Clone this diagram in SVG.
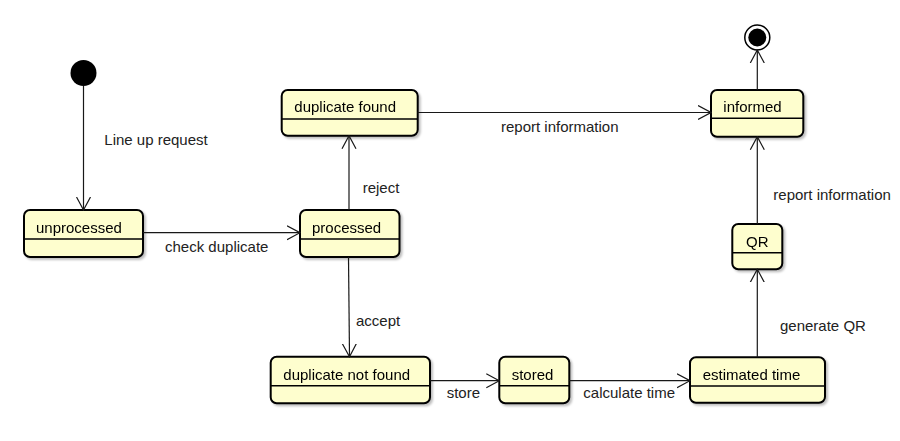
<svg xmlns="http://www.w3.org/2000/svg" width="900" height="441" viewBox="0 0 900 441">
<defs>
<filter id="sh" x="-10%" y="-10%" width="130%" height="140%">
<feDropShadow dx="2" dy="2" stdDeviation="1.2" flood-color="#000" flood-opacity="0.25"/>
</filter>
<marker id="ah" viewBox="0 0 14 16" refX="13" refY="8" markerWidth="14" markerHeight="16" markerUnits="userSpaceOnUse" orient="auto">
<path d="M0,1 L13,8 L0,15" fill="none" stroke="#181818" stroke-width="1.2"/>
</marker>
</defs>
<style>
.st rect.b{fill:#FEFECE;stroke:#000;stroke-width:2;}
.st line{stroke:#000;stroke-width:1.5;}
text{font-family:"Liberation Sans",Arial,sans-serif;font-size:15px;fill:#000;}
.el{fill:#222;}
.cn line,.cn path{stroke:#181818;stroke-width:1.2;fill:none;marker-end:url(#ah);}
</style>
<rect width="900" height="441" fill="#fff"/>

<g id="start"><circle cx="83.5" cy="73" r="13" fill="#000"/></g>
<g id="end">
<circle cx="757.3" cy="37.5" r="12.5" fill="#fff" stroke="#000" stroke-width="1.5"/>
<circle cx="757.3" cy="37.5" r="9" fill="#000"/>
</g>

<g id="unprocessed" class="st" filter="url(#sh)">
<rect class="b" x="24" y="210" width="119" height="47" rx="6"/>
<line x1="24" y1="239" x2="143" y2="239"/>
<text x="36" y="233">unprocessed</text>
</g>
<g id="processed" class="st" filter="url(#sh)">
<rect class="b" x="300" y="210" width="99.5" height="47" rx="6"/>
<line x1="300" y1="239" x2="399.5" y2="239"/>
<text x="312" y="233">processed</text>
</g>
<g id="duplicate_found" class="st" filter="url(#sh)">
<rect class="b" x="281.7" y="90" width="136" height="45.7" rx="6"/>
<line x1="281.7" y1="119" x2="417.7" y2="119"/>
<text x="294.3" y="112.3">duplicate found</text>
</g>
<g id="duplicate_not_found" class="st" filter="url(#sh)">
<rect class="b" x="270.7" y="356.7" width="159.3" height="46.6" rx="6"/>
<line x1="270.7" y1="385.7" x2="430" y2="385.7"/>
<text x="283.3" y="380">duplicate not found</text>
</g>
<g id="stored" class="st" filter="url(#sh)">
<rect class="b" x="499.3" y="356.7" width="70" height="46.6" rx="6"/>
<line x1="499.3" y1="385.7" x2="569.3" y2="385.7"/>
<text x="511.7" y="380">stored</text>
</g>
<g id="estimated_time" class="st" filter="url(#sh)">
<rect class="b" x="690" y="357.3" width="135" height="45.4" rx="6"/>
<line x1="690" y1="386" x2="825" y2="386"/>
<text x="702.7" y="379.5">estimated time</text>
</g>
<g id="QR" class="st" filter="url(#sh)">
<rect class="b" x="732.3" y="224" width="50" height="45.3" rx="6"/>
<line x1="732.3" y1="252.7" x2="782.3" y2="252.7"/>
<text x="746" y="246.7">QR</text>
</g>
<g id="informed" class="st" filter="url(#sh)">
<rect class="b" x="711" y="90" width="92.3" height="46.7" rx="6"/>
<line x1="711" y1="118.3" x2="803.3" y2="118.3"/>
<text x="723.3" y="112.3">informed</text>
</g>

<g id="connectors" class="cn">
<line x1="83.5" y1="86" x2="83.5" y2="210"/>
<line x1="143" y1="232.7" x2="300" y2="232.7"/>
<line x1="349" y1="210" x2="349" y2="135.7"/>
<line x1="348.5" y1="257" x2="349.5" y2="356.7"/>
<line x1="417.7" y1="112.5" x2="711" y2="112.5"/>
<line x1="430" y1="380.7" x2="499.3" y2="380.7"/>
<line x1="569.3" y1="380.7" x2="690" y2="380.7"/>
<line x1="757.3" y1="357.3" x2="757.3" y2="269.3"/>
<line x1="757.3" y1="224" x2="757.3" y2="136.7"/>
<line x1="757.3" y1="90" x2="757.3" y2="50"/>
</g>
<g id="labels">
<text class="el" x="104.3" y="145.3">Line up request</text>
<text class="el" x="165" y="251.7">check duplicate</text>
<text class="el" x="362.7" y="192.7">reject</text>
<text class="el" x="356" y="326">accept</text>
<text class="el" x="501" y="132">report information</text>
<text class="el" x="446.7" y="398.3">store</text>
<text class="el" x="583.3" y="398.3">calculate time</text>
<text class="el" x="780" y="331">generate QR</text>
<text class="el" x="773.3" y="200">report information</text>
</g>
</svg>
